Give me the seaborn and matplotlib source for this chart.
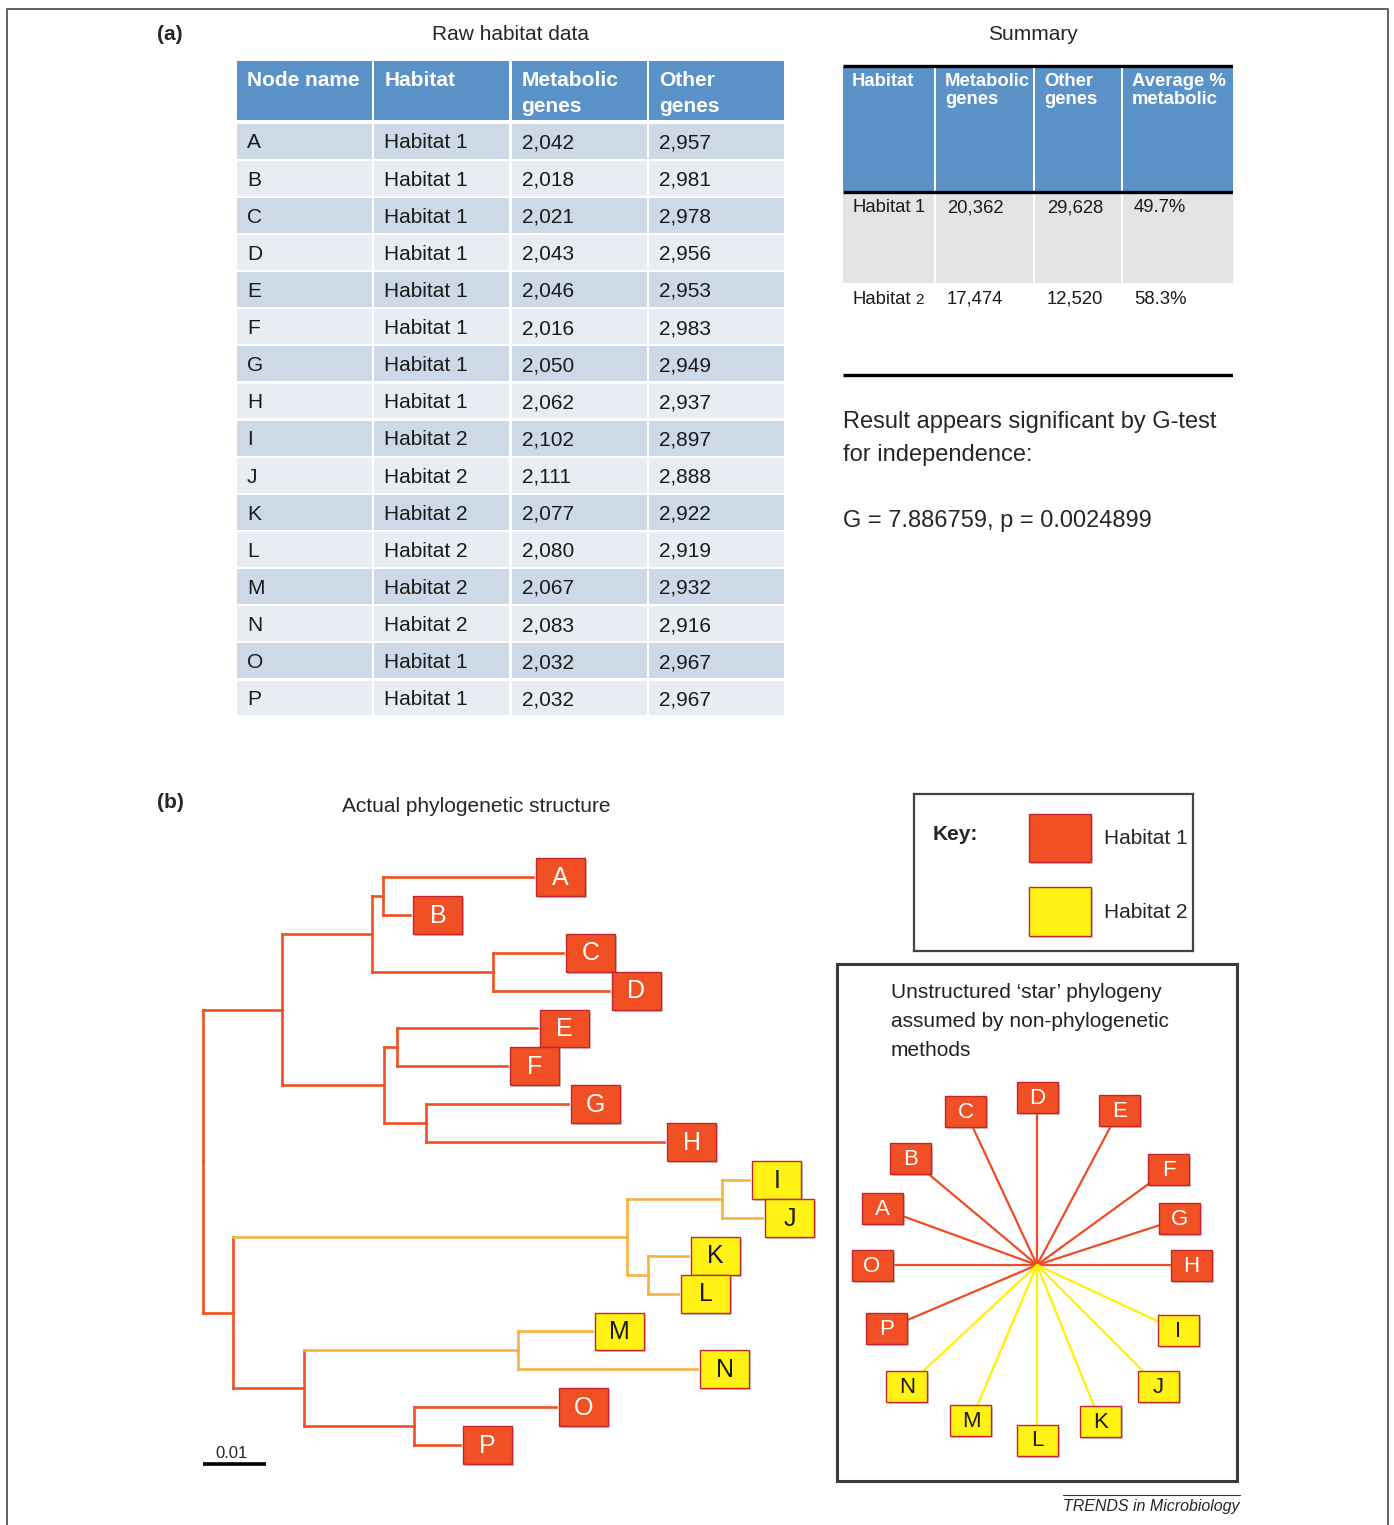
import numpy as np
import pandas as pd
import matplotlib
matplotlib.use("Agg")
import matplotlib.pyplot as plt
from matplotlib.patches import Rectangle
import seaborn as sns

# ---- panel (a): raw habitat data ----
node_names = list("ABCDEFGHIJKLMNOP")
node_habitat = [1, 1, 1, 1, 1, 1, 1, 1, 2, 2, 2, 2, 2, 2, 1, 1]
metabolic_genes = [2042, 2018, 2021, 2043, 2046, 2016, 2050, 2062,
                   2102, 2111, 2077, 2080, 2067, 2083, 2032, 2032]
other_genes = [2957, 2981, 2978, 2956, 2953, 2983, 2949, 2937,
               2897, 2888, 2922, 2919, 2932, 2916, 2967, 2967]
raw_headers = ["Node name", "Habitat", "Metabolic\ngenes", "Other\ngenes"]

# summary table, as printed in the figure
summary_habitat = [1, 2]
summary_metabolic = [20362, 17474]
summary_other = [29628, 12520]
summary_pct = [49.7, 58.3]
summary_headers = ["Habitat", "Metabolic\ngenes", "Other\ngenes", "Average %\nmetabolic"]

g_stat = "7.886759"
p_value = "0.0024899"

# ---- panel (b): tree, child / parent / branch length (scale bar = 0.01) ----
tree_child = ["n1", "n2", "n3", "A", "B", "n4", "C", "D", "n5", "n6", "E", "F", "n7", "G", "H",
              "n8", "n9", "n10", "I", "J", "n11", "K", "L", "n12", "n13", "M", "N", "n14", "O", "P"]
tree_parent = ["root", "n1", "n2", "n3", "n3", "n2", "n4", "n4", "n1", "n5", "n6", "n6", "n5", "n7", "n7",
               "root", "n8", "n9", "n10", "n10", "n9", "n11", "n11", "n8", "n12", "n13", "n13", "n12", "n14", "n14"]
tree_length = [0.0125, 0.0143, 0.0018, 0.0238, 0.0043, 0.0192, 0.0111, 0.0184, 0.0162, 0.0021,
               0.0222, 0.0175, 0.0067, 0.0225, 0.0378, 0.0048, 0.0625, 0.0151, 0.0043, 0.0063,
               0.0033, 0.0064, 0.0048, 0.0112, 0.0340, 0.0117, 0.0284, 0.0175, 0.0225, 0.0073]

# star phylogeny layout (degrees, pixels)
star_angle = {"A": 160, "B": 140, "C": 115, "D": 90, "E": 62, "F": 36, "G": 18, "H": 0,
              "I": -25, "J": -45, "K": -68, "L": -90, "M": -113, "N": -137, "O": 180, "P": -157}
star_radius = {"A": 164, "B": 165, "C": 169, "D": 168, "E": 175, "F": 163, "G": 150, "H": 154,
               "I": 156, "J": 172, "K": 169, "L": 175, "M": 169, "N": 178, "O": 165, "P": 163}

RED = "#f05023"
YELLOW = "#fff214"
ORANGE = "#f9b041"
EDGE = "#c2262c"
HEAD_BLUE = "#5b93c9"
ROW_DARK = "#cdd9e7"
ROW_LIGHT = "#e8edf4"

sns.set_theme(style="white")
plt.rcParams["font.family"] = ["Liberation Sans", "DejaVu Sans"]

W, H = 1394, 1525
fig = plt.figure(figsize=(W / 100, H / 100), dpi=100)


def axes_px(x0, y0, x1, y1):
    ax = fig.add_axes([x0 / W, 1 - y1 / H, (x1 - x0) / W, (y1 - y0) / H])
    ax.set_facecolor("none")
    return ax


# background / frame
bg = axes_px(0, 0, W, H)
bg.set_xlim(0, W)
bg.set_ylim(H, 0)
bg.axis("off")
bg.plot([7, 7, 1388, 1388], [H, 9, 9, H], color="#555555", lw=1.3)
bg.text(157, 34, "(a)", fontsize=15, fontweight="bold", va="center")
bg.text(157, 803, "(b)", fontsize=15, fontweight="bold", va="center")
bg.text(510, 34, "Raw habitat data", fontsize=15, ha="center", va="center")
bg.text(1033, 34, "Summary", fontsize=15, ha="center", va="center")
bg.text(843, 422, "Result appears significant by G-test", fontsize=17, va="center")
bg.text(843, 455, "for independence:", fontsize=17, va="center")
bg.text(843, 521, f"G = {g_stat}, p = {p_value}", fontsize=17, va="center")
bg.text(476, 806, "Actual phylogenetic structure", fontsize=15, ha="center", va="center")
bg.plot([1063, 1240], [1495, 1495], color="#333333", lw=0.8)
bg.text(1063, 1506, "TRENDS in Microbiology", fontsize=11.5, style="italic", va="center")

# ---- raw table ----
ROW_PX = 37.13
tab = axes_px(237, 61, 784, 716)
tab.set_xlim(0, 3.985)
tab.set_ylim((716 - 122.5) / ROW_PX, (61 - 122.5) / ROW_PX)
tab.axis("off")
head_top = (61 - 122.5) / ROW_PX
head_bot = (120 - 122.5) / ROW_PX
for j, lab in enumerate(raw_headers):
    tab.add_patch(Rectangle((j, head_top), 0.985, head_bot - head_top, color=HEAD_BLUE, lw=0))
    for k, line in enumerate(lab.split("\n")):
        tab.text(j + 0.073, (81 - 122.5 + 26 * k) / ROW_PX, line, color="white",
                 fontsize=15, fontweight="bold", va="center")
raw = pd.DataFrame({"name": node_names, "habitat": [f"Habitat {h}" for h in node_habitat],
                    "met": [f"{v:,}" for v in metabolic_genes],
                    "oth": [f"{v:,}" for v in other_genes]})
for i, row in raw.iterrows():
    c = ROW_DARK if i % 2 == 0 else ROW_LIGHT
    for j, val in enumerate(row):
        tab.add_patch(Rectangle((j, i + 0.03), 0.985, 0.94, color=c, lw=0))
        tab.text(j + 0.073, i + 0.55, val, fontsize=15, color="#1a1a1a", va="center")

# ---- summary table ----
sm = axes_px(843, 60, 1233, 380)
sm.set_xlim(0, 390)
sm.set_ylim(320, 0)
sm.axis("off")
col_edges = [0, 93, 192, 280, 390]
for j, lab in enumerate(summary_headers):
    x0, x1 = col_edges[j], col_edges[j + 1] - (2 if j < 3 else 0)
    sm.add_patch(Rectangle((x0, 7), x1 - x0, 124, color=HEAD_BLUE, lw=0))
    sm.add_patch(Rectangle((x0, 134), x1 - x0, 89, color="#e3e4e4", lw=0))
    for k, line in enumerate(lab.split("\n")):
        sm.text(x0 + 9, 21 + 18 * k, line, color="white", fontsize=13.3,
                fontweight="bold", va="center")
for y in [6, 132, 315]:
    sm.plot([0, 390], [y, y], color="black", lw=2.4, solid_capstyle="butt")
for r, h in enumerate(summary_habitat):
    yy = 148 + 91 * r
    sm.text(10, yy, "Habitat", fontsize=13.3, va="center", color="#1a1a1a")
    sm.text(72, yy + (0 if r == 0 else 1), str(h), fontsize=13.3 if r == 0 else 11,
            va="center", color="#1a1a1a")
    sm.text(104, yy, f"{summary_metabolic[r]:,}", fontsize=13.3, va="center", color="#1a1a1a")
    sm.text(204, yy, f"{summary_other[r]:,}", fontsize=13.3, va="center", color="#1a1a1a")
    sm.text(291, yy, f"{summary_pct[r]:.1f}%", fontsize=13.3, va="center", color="#1a1a1a")

# ---- tree ----
depth = {"root": 0.0}
children = {}
for c, p, bl in zip(tree_child, tree_parent, tree_length):
    depth[c] = depth[p] + bl
    children.setdefault(p, []).append(c)
ypos = {n: i for i, n in enumerate(node_names)}
hab = dict(zip(node_names, node_habitat))


def place(n):
    if n not in ypos:
        ys = [place(c) for c in children[n]]
        ypos[n] = float(np.mean(ys))
        hab[n] = 2 if all(hab[c] == 2 for c in children[n]) else 1
    return ypos[n]


place("root")

tree = axes_px(180, 840, 830, 1480)
x0, x1 = -0.00365, 0.0995
ppu = 650 / (x1 - x0)
TIP_PX = 37.87
tree.set_xlim(x0, x1)
tree.set_ylim((1480 - 877) / TIP_PX, (840 - 877) / TIP_PX)

rows = []
for k, (c, p) in enumerate(zip(tree_child, tree_parent)):
    rows += [(2 * k, depth[p], ypos[p], hab[p]), (2 * k, depth[p], ypos[c], hab[p]),
             (2 * k + 1, depth[p], ypos[c], hab[c]), (2 * k + 1, depth[c], ypos[c], hab[c])]
seg = pd.DataFrame(rows, columns=["seg", "x", "y", "habitat"])
seg["habitat"] = "Habitat " + seg["habitat"].astype(str)
sns.lineplot(data=seg, x="x", y="y", units="seg", hue="habitat", estimator=None, sort=False,
             palette={"Habitat 1": RED, "Habitat 2": ORANGE}, linewidth=1.9,
             solid_capstyle="projecting", legend=False, ax=tree)

bw, gap = 49 / ppu, 3 / ppu
for n in node_names:
    bx, by = depth[n] + gap, ypos[n]
    fc = RED if hab[n] == 1 else YELLOW
    tree.add_patch(Rectangle((bx + 2 / ppu, by - 0.5 + 2 / TIP_PX), bw, 1.0, color="#999999",
                             alpha=0.5, lw=0, zorder=3))
    tree.add_patch(Rectangle((bx, by - 0.5), bw, 1.0, facecolor=fc, edgecolor=EDGE, lw=1.0, zorder=4))
    tree.text(bx + bw / 2, by + 0.02, n, fontsize=18, ha="center", va="center", zorder=5,
              color="white" if hab[n] == 1 else "#1a1a1a")
sb_y = (1464 - 877) / TIP_PX
tree.plot([0, 0.01], [sb_y, sb_y], color="black", lw=2.6, solid_capstyle="butt")
tree.text(0.0046, (1453 - 877) / TIP_PX, "0.01", fontsize=12, ha="center", va="center")
tree.axis("off")

# ---- key ----
key = axes_px(914, 794, 1193, 951)
key.set_xlim(0, 279)
key.set_ylim(157, 0)
key.set_xticks([])
key.set_yticks([])
for s in key.spines.values():
    s.set_color("#444444")
    s.set_linewidth(1.6)
key.text(19, 40, "Key:", fontsize=15, fontweight="bold", va="center")
for (yy, hh), fc, lab in zip([(20, 48), (93, 49)], [RED, YELLOW], ["Habitat 1", "Habitat 2"]):
    key.add_patch(Rectangle((117, yy + 2), 62, hh, color="#aaaaaa", alpha=0.5, lw=0))
    key.add_patch(Rectangle((115, yy), 62, hh, facecolor=fc, edgecolor=EDGE, lw=1.0))
    key.text(190, yy + hh / 2 + 1, lab, fontsize=15, va="center")

# ---- star phylogeny ----
star = axes_px(837, 964, 1237, 1481)
star.set_xticks([])
star.set_yticks([])
for s in star.spines.values():
    s.set_color("#3a3a3a")
    s.set_linewidth(2.2)
for k, line in enumerate(["Unstructured \u2018star\u2019 phylogeny", "assumed by non-phylogenetic", "methods"]):
    star.text(-146, 273 - 29.5 * k, line, fontsize=15, va="center", color="#222222")

sx = {n: star_radius[n] * np.cos(np.radians(star_angle[n])) for n in node_names}
sy = {n: star_radius[n] * np.sin(np.radians(star_angle[n])) for n in node_names}
rows = []
for n, h in zip(node_names, node_habitat):
    rows += [(n, 0.0, 0.0, f"Habitat {h}"), (n, sx[n], sy[n], f"Habitat {h}")]
spokes = pd.DataFrame(rows, columns=["leaf", "x", "y", "habitat"])
sns.lineplot(data=spokes, x="x", y="y", units="leaf", hue="habitat", estimator=None, sort=False,
             palette={"Habitat 1": "#ef4b24", "Habitat 2": "#fff200"}, linewidth=1.6,
             legend=False, ax=star)
star.set_xlabel("")
star.set_ylabel("")
sw, sh = 41, 31
for n, h in zip(node_names, node_habitat):
    fc = RED if h == 1 else YELLOW
    star.add_patch(Rectangle((sx[n] - sw / 2 + 2, sy[n] - sh / 2 - 2), sw, sh, color="#999999",
                             alpha=0.5, lw=0, zorder=3))
    star.add_patch(Rectangle((sx[n] - sw / 2, sy[n] - sh / 2), sw, sh, facecolor=fc,
                             edgecolor=EDGE, lw=1.0, zorder=4))
    star.text(sx[n], sy[n] - 1, n, fontsize=16, ha="center", va="center", zorder=5,
              color="white" if h == 1 else "#1a1a1a")
star.set_xlim(-200, 200)
star.set_ylim(-216, 301)

fig.savefig("out.png", dpi=100)
